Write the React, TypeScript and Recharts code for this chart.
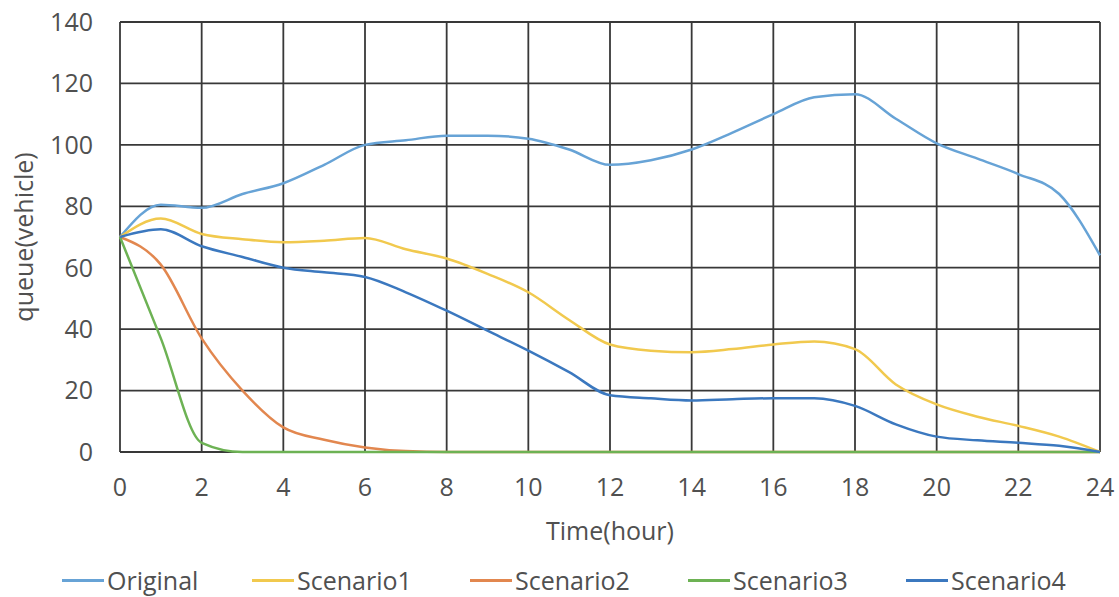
import React from 'react'
import {
  LineChart, Line, XAxis, YAxis, CartesianGrid, Legend
} from 'recharts'

const hours = [0, 1, 2, 3, 4, 5, 6, 7, 8, 9, 10, 11, 12, 13, 14, 15, 16, 17, 18, 19, 20, 21, 22, 23, 24]

const original = [70, 80.5, 79.5, 84, 87.5, 93.5, 100, 101.5, 103, 103, 102, 98.5, 93.5, 95, 98.5, 104, 110, 115.5, 116.5, 108.5, 100.5, 95.5, 90.5, 84, 64]
const scenario1 = [70, 76, 71, 69.3, 68.3, 68.8, 69.7, 66, 63, 58, 52, 43, 35, 33, 32.5, 33.5, 35, 36, 33.5, 22, 15.5, 11.5, 8.5, 5, 0]
const scenario2 = [70, 61, 37, 20, 8, 4, 1.5, 0.3, 0, 0, 0, 0, 0, 0, 0, 0, 0, 0, 0, 0, 0, 0, 0, 0, 0]
const scenario3 = [70, 37, 3, 0, 0, 0, 0, 0, 0, 0, 0, 0, 0, 0, 0, 0, 0, 0, 0, 0, 0, 0, 0, 0, 0]
const scenario4 = [70, 72.5, 67, 63.5, 60, 58.5, 57, 52, 46, 39.5, 33, 26, 18.5, 17.5, 16.8, 17.2, 17.5, 17.5, 15, 9, 5, 3.8, 3, 2, 0]

const xTicks = [0, 2, 4, 6, 8, 10, 12, 14, 16, 18, 20, 22, 24]
const yTicks = [0, 20, 40, 60, 80, 100, 120, 140]

const series = [
  { key: 'Original', values: original, color: '#67a3d6' },
  { key: 'Scenario1', values: scenario1, color: '#f1c94e' },
  { key: 'Scenario2', values: scenario2, color: '#e2874f' },
  { key: 'Scenario3', values: scenario3, color: '#6db254' },
  { key: 'Scenario4', values: scenario4, color: '#3b78bf' },
]

const data = hours.map((h, i) => {
  const row: Record<string, number> = { hour: h }
  series.forEach(s => { row[s.key] = s.values[i] })
  return row
})

const font = '"Open Sans", "Noto Sans", sans-serif'
const textColor = '#505050'
const fs = 25

function renderLegend() {
  return (
    <div style={{
      display: 'flex', fontFamily: font, fontSize: fs, color: textColor,
      paddingLeft: 62, paddingTop: 21, lineHeight: '34px'
    }}>
      {series.map((s, i) => (
        <div key={s.key} style={{ display: 'flex', alignItems: 'center', width: i === 0 ? 190 : 218, flex: 'none' }}>
          <span style={{ display: 'inline-block', width: 42, height: 3, background: s.color, marginRight: 3 }} />
          <span>{s.key}</span>
        </div>
      ))}
    </div>
  )
}

export default function App() {
  return (
    <div style={{ position: 'absolute', left: 0, top: 0, width: 1119, height: 597, background: '#fff' }}>
      <LineChart
        width={1119}
        height={597}
        data={data}
        margin={{ top: 22, right: 19, left: 0, bottom: 0 }}
      >
        <CartesianGrid stroke="#383838" strokeWidth={1.8} horizontalValues={yTicks} verticalValues={xTicks} />
        <XAxis
          dataKey="hour"
          type="number"
          domain={[0, 24]}
          ticks={xTicks}
          axisLine={false}
          tickLine={false}
          tickMargin={20}
          height={90}
          tick={{ fontSize: fs, fill: textColor, fontFamily: font }}
          label={{ value: 'Time(hour)', position: 'insideBottom', offset: 2, fontSize: fs, fill: textColor, fontFamily: font }}
        />
        <YAxis
          type="number"
          domain={[0, 140]}
          ticks={yTicks}
          axisLine={false}
          tickLine={false}
          width={120}
          tickMargin={21}
          tick={{ fontSize: fs, fill: textColor, fontFamily: font }}
          label={{ value: 'queue(vehicle)', angle: -90, position: 'insideLeft', offset: 24, style: { textAnchor: 'middle' }, fontSize: fs, fill: textColor, fontFamily: font }}
        />
        <Legend verticalAlign="bottom" height={55} content={renderLegend} />
        {series.map(s => (
          <Line
            key={s.key}
            dataKey={s.key}
            type="monotone"
            stroke={s.color}
            strokeWidth={2.5}
            dot={false}
            isAnimationActive={false}
          />
        ))}
      </LineChart>
    </div>
  )
}
